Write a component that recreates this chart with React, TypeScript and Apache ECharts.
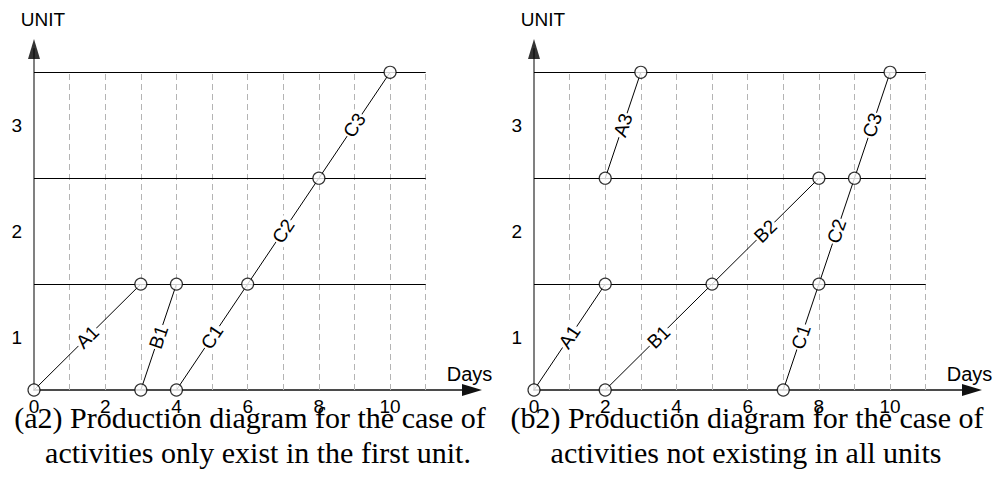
import { useEffect, useRef } from 'react';
import * as echarts from 'echarts';

// ---- data ----
const GRID_DAYS = [1, 2, 3, 4, 5, 6, 7, 8, 9, 10, 11];
const UNIT_LINES = [1, 2, 3];
const LAST_LABELED_DAY = 10;
const LAST_GRID_DAY = 11;
const TOP_UNIT = 3;
const AXIS_X_MAX = 12.3;
const AXIS_Y_MAX = 3.22;

type Seg = { name: string; from: [number, number]; to: [number, number] };

const leftActivities: Seg[] = [
  { name: 'A1', from: [0, 0], to: [3, 1] },
  { name: 'B1', from: [3, 0], to: [4, 1] },
  { name: 'C1', from: [4, 0], to: [6, 1] },
  { name: 'C2', from: [6, 1], to: [8, 2] },
  { name: 'C3', from: [8, 2], to: [10, 3] },
];

const rightActivities: Seg[] = [
  { name: 'A1', from: [0, 0], to: [2, 1] },
  { name: 'A3', from: [2, 2], to: [3, 3] },
  { name: 'B1', from: [2, 0], to: [5, 1] },
  { name: 'B2', from: [5, 1], to: [8, 2] },
  { name: 'C1', from: [7, 0], to: [8, 1] },
  { name: 'C2', from: [8, 1], to: [9, 2] },
  { name: 'C3', from: [9, 2], to: [10, 3] },
];

const leftCaption = ['(a2) Production diagram for the case of', 'activities only exist in the first unit.'];
const rightCaption = ['(b2) Production diagram for the case of', 'activities not existing in all units'];

const SANS = '"Liberation Sans", Arial, sans-serif';
const SERIF = '"Liberation Serif", "Times New Roman", serif';

function endpoints(acts: Seg[]): [number, number][] {
  const seen = new Set<string>();
  const out: [number, number][] = [];
  acts.forEach((a) => {
    [a.from, a.to].forEach((p) => {
      const k = p.join(',');
      if (!seen.has(k)) {
        seen.add(k);
        out.push(p);
      }
    });
  });
  return out;
}

function panelSeries(idx: number, acts: Seg[]) {
  return [
    {
      type: 'lines',
      coordinateSystem: 'cartesian2d',
      xAxisIndex: idx,
      yAxisIndex: idx,
      silent: true,
      z: 1,
      lineStyle: { color: '#b4b4b4', width: 1, type: [6, 4], opacity: 1 },
      data: GRID_DAYS.map((d) => ({ coords: [[d, 0], [d, TOP_UNIT]] })),
    },
    {
      type: 'lines',
      coordinateSystem: 'cartesian2d',
      xAxisIndex: idx,
      yAxisIndex: idx,
      silent: true,
      z: 2,
      lineStyle: { color: '#000', width: 1, opacity: 1 },
      data: UNIT_LINES.map((u) => ({ coords: [[0, u], [LAST_GRID_DAY, u]] })),
    },
    {
      type: 'lines',
      coordinateSystem: 'cartesian2d',
      xAxisIndex: idx,
      yAxisIndex: idx,
      silent: true,
      z: 3,
      lineStyle: { color: '#000', width: 1, opacity: 1 },
      label: {
        show: true,
        position: 'middle',
        formatter: '{b}',
        distance: 0,
        verticalAlign: 'middle',
        align: 'center',
        color: '#000',
        fontSize: 19,
        fontFamily: SANS,
        backgroundColor: '#fff',
        padding: [0, 1],
      },
      data: acts.map((a) => ({ name: a.name, coords: [a.from, a.to] })),
    },
    {
      type: 'scatter',
      xAxisIndex: idx,
      yAxisIndex: idx,
      silent: true,
      z: 4,
      symbol: 'circle',
      symbolSize: 12,
      itemStyle: { color: '#fff', borderColor: '#000', borderWidth: 1.2 },
      data: endpoints(acts),
    },
    {
      // black arrow head at the top of the gray unit axis
      type: 'scatter',
      xAxisIndex: idx,
      yAxisIndex: idx,
      silent: true,
      clip: false,
      z: 5,
      symbol: 'triangle',
      symbolSize: [12, 20],
      itemStyle: { color: '#000' },
      data: [[0, AXIS_Y_MAX]],
    },
  ];
}

function xAxis(idx: number) {
  return {
    gridIndex: idx,
    type: 'value',
    min: 0,
    max: AXIS_X_MAX,
    interval: 2,
    axisLine: {
      show: true,
      symbol: ['none', 'triangle'],
      symbolSize: [12, 20],
      lineStyle: { color: '#111', width: 1.5 },
    },
    axisTick: { show: false },
    splitLine: { show: false },
    axisLabel: {
      formatter: (v: number) => (v <= LAST_LABELED_DAY && v % 2 === 0 ? String(v) : ''),
      fontSize: 19,
      color: '#000',
      fontFamily: SANS,
      margin: 7,
      showMaxLabel: false,
    },
    name: 'Days',
    nameLocation: 'end',
    nameGap: 0,
    nameTextStyle: {
      fontSize: 20,
      color: '#000',
      fontFamily: SANS,
      align: 'center',
      verticalAlign: 'bottom',
      padding: [0, 5, 6, 0],
    },
  };
}

function yAxis(idx: number) {
  return {
    gridIndex: idx,
    type: 'value',
    min: 0,
    max: AXIS_Y_MAX,
    interval: 0.5,
    axisLine: {
      show: true,
      onZero: false,
      symbol: ['none', 'none'],
      lineStyle: { color: '#808080', width: 2 },
    },
    axisTick: { show: false },
    splitLine: { show: false },
    axisLabel: {
      formatter: (v: number) => {
        const f = v - Math.floor(v);
        return Math.abs(f - 0.5) < 1e-6 && v < TOP_UNIT ? String(Math.round(v + 0.5)) : '';
      },
      fontSize: 19,
      color: '#000',
      fontFamily: SANS,
      margin: 12,
      showMaxLabel: false,
    },
    name: 'UNIT',
    nameLocation: 'end',
    nameGap: 20,
    nameTextStyle: {
      fontSize: 19,
      color: '#000',
      fontFamily: SANS,
      align: 'center',
      padding: [0, 0, 0, 18],
    },
  };
}

function captionText(x: number, y: number, text: string) {
  return {
    type: 'text',
    x,
    y,
    silent: true,
    style: {
      text,
      font: `30px ${SERIF}`,
      fill: '#000',
      align: 'center',
      verticalAlign: 'middle',
    },
  };
}

export default function App() {
  const ref = useRef<HTMLDivElement>(null);

  useEffect(() => {
    document.body.style.margin = '0';
    if (!ref.current) return;
    const chart = echarts.init(ref.current, undefined, { renderer: 'svg' });
    chart.setOption({
      animation: false,
      backgroundColor: '#fff',
      grid: [
        { left: 34, right: 525, top: 49, bottom: 91 },
        { left: 534, right: 25, top: 49, bottom: 91 },
      ],
      xAxis: [xAxis(0), xAxis(1)],
      yAxis: [yAxis(0), yAxis(1)],
      series: [...panelSeries(0, leftActivities), ...panelSeries(1, rightActivities)],
      graphic: [
        captionText(250, 417, leftCaption[0]),
        captionText(258, 452, leftCaption[1]),
        captionText(747, 417, rightCaption[0]),
        captionText(746, 452, rightCaption[1]),
      ],
    });
    return () => chart.dispose();
  }, []);

  return <div ref={ref} style={{ width: 997, height: 481, position: 'absolute', left: 0, top: 0 }} />;
}
